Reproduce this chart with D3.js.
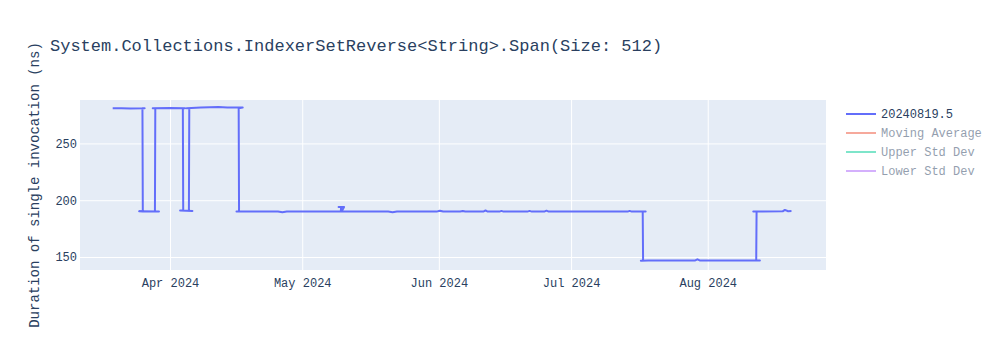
<!DOCTYPE html>
<html>
<head>
<meta charset="utf-8">
<script src="https://cdn.jsdelivr.net/npm/d3@7"></script>
<style>
	body { margin: 0; background: #fff; }
	text { font-family: "Liberation Mono", "Courier New", monospace; fill: #2a3f5f; }
</style>
</head>
<body>
<div id="chart"></div>
<script>
const title = "System.Collections.IndexerSetReverse<String>.Span(Size: 512)"
const yTitle = "Duration of single invocation (ns)"
const seriesNames = ["20240819.5", "Moving Average", "Upper Std Dev", "Lower Std Dev"]
const seriesColors = ["#636efa", "#EF553B", "#00cc96", "#ab63fa"]
const yTicks = [150, 200, 250]

// runs in the order they were recorded (a few overlap in time)
const runDates = [
	"2024-03-19T00", "2024-03-21T00", "2024-03-23T00", "2024-03-26T06", "2024-03-25T18",
	"2024-03-25T20", "2024-03-25T00", "2024-03-29T12", "2024-03-28T14", "2024-03-28T16",
	"2024-03-28T02", "2024-04-01T00", "2024-04-04T10", "2024-04-03T22", "2024-04-04T00",
	"2024-04-03T07", "2024-04-06T02", "2024-04-05T07", "2024-04-05T09", "2024-04-04T19",
	"2024-04-08T00", "2024-04-10T00", "2024-04-12T00", "2024-04-14T00", "2024-04-17T12",
	"2024-04-16T14", "2024-04-16T16", "2024-04-16T02", "2024-04-22T00", "2024-04-25T12",
	"2024-04-26T12", "2024-04-27T12", "2024-05-04T00", "2024-05-09T18", "2024-05-09T20",
	"2024-05-09T06", "2024-05-10T12", "2024-05-09T22", "2024-05-11T00", "2024-05-20T12",
	"2024-05-21T12", "2024-05-22T12", "2024-05-31T12", "2024-06-01T05", "2024-06-02T00",
	"2024-06-05T20", "2024-06-06T10", "2024-06-07T00", "2024-06-11T02", "2024-06-11T14",
	"2024-06-12T02", "2024-06-14T18", "2024-06-15T05", "2024-06-15T16", "2024-06-21T02",
	"2024-06-21T14", "2024-06-22T02", "2024-06-24T22", "2024-06-25T10", "2024-06-25T22",
	"2024-07-13T20", "2024-07-14T07", "2024-07-14T18", "2024-07-17T22", "2024-07-17T06",
	"2024-07-17T08", "2024-07-16T20", "2024-07-18T12", "2024-07-29T04", "2024-07-29T16",
	"2024-07-30T04", "2024-08-12T20", "2024-08-12T00", "2024-08-12T02", "2024-08-11T08",
	"2024-08-18T00", "2024-08-18T12", "2024-08-19T06", "2024-08-20T00"
]

const runValues = [
	281, 281, 280.8, 281, 281,
	190, 190.3, 190, 190, 281,
	281, 281.2, 281, 281, 191,
	191, 190.5, 190.5, 281, 281,
	281.5, 281.8, 282, 281.6, 281.5,
	281, 190, 190, 190, 190,
	189.4, 190, 190, 190, 194,
	194, 194, 190, 190, 190,
	189.5, 190, 190, 190.8, 190,
	190, 190.5, 190, 190, 191,
	190, 190, 190.6, 190, 190,
	190.6, 190, 190, 190.8, 190,
	190, 190.6, 190, 190, 190,
	147, 146.8, 147, 147, 148,
	147, 147, 147, 190, 190,
	190.2, 191.5, 190.3, 190.5
]

const width = 1000
const height = 350
const margin = { top: 100, right: 174, bottom: 80, left: 80 }

const parse = d3.timeParse("%Y-%m-%dT%H")
const data = runDates.map((d, i) => ({ date: parse(d), value: runValues[i] }))

const x = d3.scaleTime()
	.domain([new Date(2024, 2, 11, 14), new Date(2024, 7, 27, 20)])
	.range([margin.left, width - margin.right])

const y = d3.scaleLinear()
	.domain([138.6, 288.2])
	.range([height - margin.bottom, margin.top])

const svg = d3.select("#chart")
	.append("svg")
		.attr("width", width)
		.attr("height", height)

svg.append("rect")
	.attr("x", margin.left)
	.attr("y", margin.top)
	.attr("width", width - margin.left - margin.right)
	.attr("height", height - margin.top - margin.bottom)
	.attr("fill", "#E5ECF6")

const gx = svg.append("g")
	.attr("transform", `translate(0,${height - margin.bottom})`)
	.call(d3.axisBottom(x)
		.ticks(d3.timeMonth.every(1))
		.tickFormat(d3.timeFormat("%b %Y"))
		.tickSize(-(height - margin.top - margin.bottom))
		.tickPadding(8))

gx.select(".domain").remove()
gx.selectAll(".tick line").attr("stroke", "#fff").attr("stroke-width", 1)
gx.selectAll(".tick text").attr("font-size", 12)

const gy = svg.append("g")
	.attr("transform", `translate(${margin.left},0)`)
	.call(d3.axisLeft(y)
		.tickValues(yTicks)
		.tickSize(-(width - margin.left - margin.right))
		.tickPadding(3))

gy.select(".domain").remove()
gy.selectAll(".tick line").attr("stroke", "#fff").attr("stroke-width", 1)
gy.selectAll(".tick text").attr("font-size", 12)

const line = d3.line()
	.x(d => x(d.date))
	.y(d => y(d.value))

svg.append("path")
	.datum(data)
	.attr("fill", "none")
	.attr("stroke", seriesColors[0])
	.attr("stroke-width", 2)
	.attr("stroke-linejoin", "round")
	.attr("d", line)

svg.append("text")
	.attr("x", 50)
	.attr("y", 51)
	.attr("font-size", 17)
	.text(title)

svg.append("text")
	.attr("transform", `translate(39,${(margin.top + height - margin.bottom) / 2}) rotate(-90)`)
	.attr("text-anchor", "middle")
	.attr("font-size", 14)
	.text(yTitle)

const legend = svg.append("g")
	.selectAll("g")
	.data(seriesNames)
	.enter().append("g")
		.attr("transform", (d, i) => `translate(846,${114 + i * 19})`)
		.attr("opacity", (d, i) => i === 0 ? 1 : 0.5)

legend.append("line")
	.attr("x1", 0)
	.attr("x2", 30)
	.attr("stroke", (d, i) => seriesColors[i])
	.attr("stroke-width", 2)

legend.append("text")
	.attr("x", 35)
	.attr("y", 4)
	.attr("font-size", 12)
	.text(d => d)
</script>
</body>
</html>
